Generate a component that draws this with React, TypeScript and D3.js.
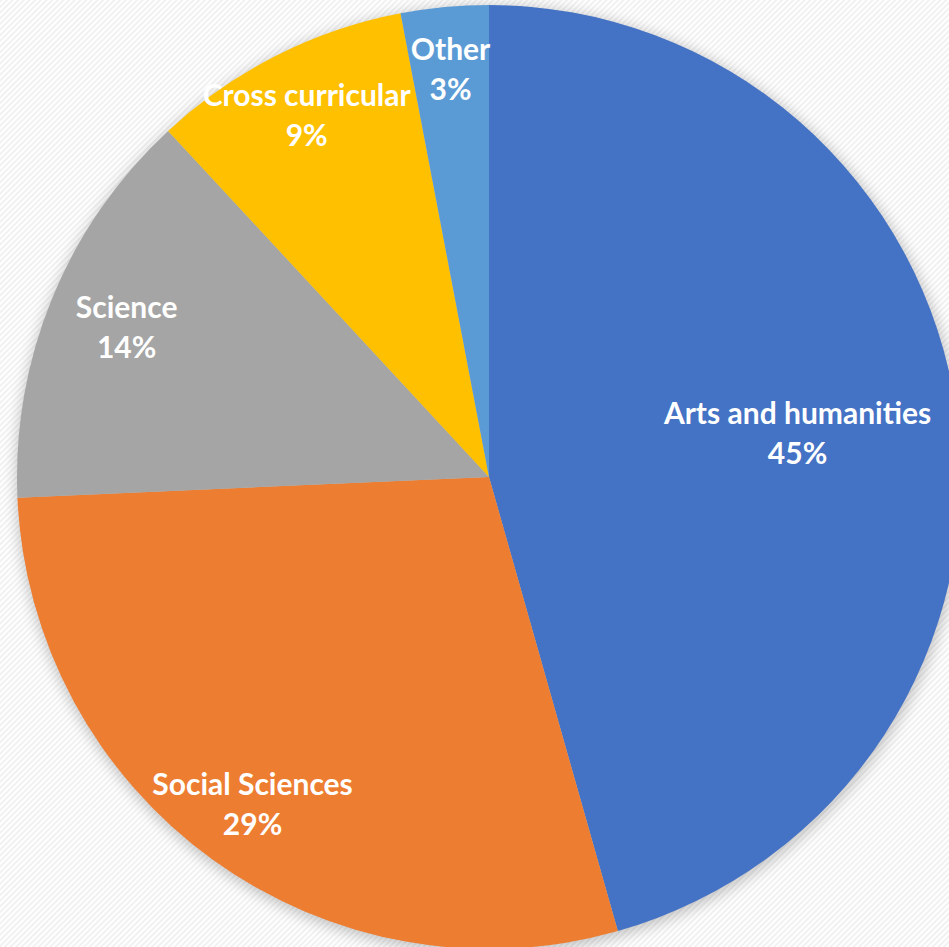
import React, { useEffect, useRef } from 'react';
import * as d3 from 'd3';

const categories = ['Arts and humanities', 'Social Sciences', 'Science', 'Cross curricular', 'Other'];
const shares = [45.6, 28.7, 13.8, 8.9, 3.0];
const pctLabels = ['45%', '29%', '14%', '9%', '3%'];
const colors = ['#4472C4', '#ED7D31', '#A5A5A5', '#FFC000', '#5B9BD5'];
const labelRadius = [0.66, 0.856, 0.83, 0.856, 0.866];

interface Slice {
  name: string;
  value: number;
  pct: string;
  color: string;
  lr: number;
}

const App: React.FC = () => {
  const svgRef = useRef<SVGSVGElement>(null);

  useEffect(() => {
    if (!svgRef.current) return;
    const width = 949;
    const height = 947;
    const cx = 489;
    const cy = 477;
    const radius = 472;

    const data: Slice[] = categories.map((name, i) => ({
      name,
      value: shares[i],
      pct: pctLabels[i],
      color: colors[i],
      lr: labelRadius[i],
    }));

    const svg = d3.select(svgRef.current);
    svg.selectAll('*').remove();
    svg.attr('width', width).attr('height', height);

    const defs = svg.append('defs');

    // faint diagonal stripes for the background
    const pattern = defs.append('pattern')
      .attr('id', 'bg-stripes')
      .attr('patternUnits', 'userSpaceOnUse')
      .attr('width', 4)
      .attr('height', 4)
      .attr('patternTransform', 'rotate(45)');
    pattern.append('rect').attr('width', 4).attr('height', 4).attr('fill', '#ffffff');
    pattern.append('rect').attr('width', 2).attr('height', 4).attr('fill', '#f1f1f1');

    const shadow = defs.append('filter')
      .attr('id', 'pie-shadow')
      .attr('x', '-10%').attr('y', '-10%')
      .attr('width', '120%').attr('height', '120%');
    shadow.append('feGaussianBlur').attr('stdDeviation', 7);

    svg.append('rect')
      .attr('width', width)
      .attr('height', height)
      .attr('fill', 'url(#bg-stripes)');

    const g = svg.append('g').attr('transform', `translate(${cx},${cy})`);

    g.append('circle')
      .attr('cx', 1)
      .attr('cy', 3)
      .attr('r', radius + 2)
      .attr('fill', '#000')
      .attr('opacity', 0.22)
      .attr('filter', 'url(#pie-shadow)');

    const pie = d3.pie<Slice>().sort(null).value(d => d.value);
    const arcs = pie(data);

    const arc = d3.arc<d3.PieArcDatum<Slice>>()
      .innerRadius(0)
      .outerRadius(radius);

    g.selectAll('path.slice')
      .data(arcs)
      .enter()
      .append('path')
      .attr('class', 'slice')
      .attr('d', arc)
      .attr('fill', d => d.data.color);

    const labels = g.selectAll('text.label')
      .data(arcs)
      .enter()
      .append('text')
      .attr('class', 'label')
      .attr('transform', d => {
        const r = radius * d.data.lr;
        const c = d3.arc<d3.PieArcDatum<Slice>>().innerRadius(r).outerRadius(r).centroid(d);
        return `translate(${c[0]},${c[1]})`;
      })
      .attr('text-anchor', 'middle')
      .attr('fill', '#ffffff')
      .attr('font-family', 'Lato, "Open Sans", sans-serif')
      .attr('font-weight', 'bold')
      .attr('font-size', 30);

    labels.append('tspan')
      .attr('x', 0)
      .attr('y', -10)
      .text(d => d.data.name);

    labels.append('tspan')
      .attr('x', 0)
      .attr('y', 30)
      .text(d => d.data.pct);
  }, []);

  return (
    <div style={{ position: 'absolute', left: 0, top: 0, width: 949, height: 947, overflow: 'hidden' }}>
      <svg ref={svgRef} style={{ display: 'block' }} />
    </div>
  );
};

export default App;
